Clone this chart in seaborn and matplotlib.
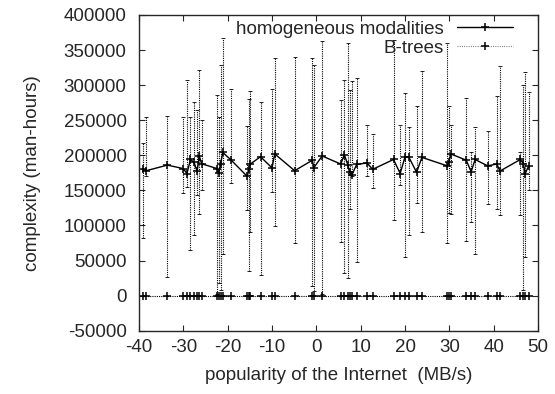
import numpy as np
import pandas as pd
import matplotlib
matplotlib.use("Agg")
import matplotlib.pyplot as plt
import seaborn as sns

# ==========================================================
# DATA
# ==========================================================

x_vals = [-39.2, -38.4, -33.6, -30.0, -29.2, -28.4, -27.6, -26.9, -26.4, -25.9,
          -22.4, -22.0, -21.6, -21.1, -19.2, -15.6, -15.2, -15.0, -12.6, -10.0,
          -9.4, -4.9, -0.9, -0.6, 1.3, 5.5, 6.3, 7.1, 7.5, 8.0,
          9.1, 11.4, 12.7, 17.4, 18.9, 20.0, 20.8, 22.6, 23.8, 29.5,
          29.9, 30.3, 33.8, 34.9, 35.8, 38.6, 40.7, 41.4, 46.0, 46.7,
          47.1, 47.9]

homog_y = [180000, 178000, 186000, 181000, 174000, 194000, 190000, 177000, 199000, 188000,
           181000, 175000, 188000, 204000, 193000, 170000, 180000, 187000, 198000, 182000,
           202000, 178000, 193000, 182000, 199000, 187500, 201000, 186000, 176000, 172000,
           187000, 189000, 180000, 194000, 174000, 198000, 198000, 175700, 197000, 185000,
           190000, 202000, 193000, 176600, 194000, 185000, 187500, 177500, 194000, 188000,
           174000, 185000]

homog_lo = [82000, 170000, 27000, 146000, 155000, 65000, 86000, 143000, 117000, 150000,
            3000, 18000, 8000, 60000, 161000, 122000, 35500, 91000, 29000, 148000,
            99000, 75000, 13000, 6000, 2000, 77000, 32000, 25000, 124000, 170000,
            48000, 170000, 153000, 108000, 158000, 54500, 86000, 132000, 90000, 75000,
            118000, 117000, 78000, 105000, 59000, 131000, 124000, 115000, 115000, 8000,
            55000, 150000]

homog_hi = [217000, 255000, 256000, 255000, 307000, 255000, 276000, 264000, 322000, 250000,
            286000, 255000, 329000, 367000, 294000, 242000, 280000, 292000, 276000, 294000,
            338000, 340000, 339000, 329000, 363000, 279000, 307000, 360000, 293000, 306000,
            310000, 243000, 231000, 364000, 243000, 289000, 241000, 270000, 320000, 360000,
            270000, 243000, 281000, 205000, 241000, 235000, 284000, 327000, 205000, 300000,
            319000, 290000]

btree_y = [0] * len(x_vals)

x_ticks = [-40, -30, -20, -10, 0, 10, 20, 30, 40, 50]
y_ticks = [-50000, 0, 50000, 100000, 150000, 200000, 250000, 300000, 350000, 400000]

df = pd.DataFrame({"x": x_vals, "homog": homog_y, "btree": btree_y})

# ==========================================================
# PLOT
# ==========================================================

sns.set_style("ticks")
plt.rcParams["font.family"] = ["Liberation Sans", "DejaVu Sans"]
plt.rcParams["axes.unicode_minus"] = False

fig = plt.figure(figsize=(5.55, 3.94), dpi=100)
ax = fig.add_axes([0.2505, 0.1607, 0.719, 0.8013])

# error bars (dotted)
err_lo = np.array(homog_y) - np.array(homog_lo)
err_hi = np.array(homog_hi) - np.array(homog_y)
eb = ax.errorbar(x_vals, homog_y, yerr=[err_lo, err_hi], fmt="none",
                 ecolor="black", elinewidth=0.8, capsize=1.5, capthick=0.6)
eb[2][0].set_linestyle((0, (1, 1)))

sns.lineplot(data=df, x="x", y="homog", ax=ax, color="black", linewidth=1.0,
             marker="+", markersize=5.5, markeredgewidth=1.1, markeredgecolor="black",
             label="homogeneous modalities", sort=True)
sns.lineplot(data=df, x="x", y="btree", ax=ax, color="black", linewidth=0.8,
             linestyle=(0, (1, 1)), marker="+", markersize=5.5, markeredgewidth=1.1,
             markeredgecolor="black", label="B-trees", sort=True)

ax.set_xlim(-40, 50)
ax.set_ylim(-50000, 400000)
ax.set_xticks(x_ticks)
ax.set_yticks(y_ticks)
ax.tick_params(direction="in", length=4, width=0.8, labelsize=13.5,
               top=True, right=True)
ax.tick_params(axis="y", pad=9)
ax.tick_params(axis="x", pad=6)
for s in ax.spines.values():
    s.set_linewidth(1.0)

ax.set_xlabel("popularity of the Internet  (MB/s)", fontsize=13.5, labelpad=8)
ax.set_ylabel("complexity (man-hours)", fontsize=13.5, labelpad=16)

leg = ax.legend(loc="upper right", bbox_to_anchor=(0.947, 0.994), frameon=False,
                markerfirst=False, fontsize=13.5, handlelength=3.0, borderaxespad=0,
                borderpad=0.2, labelspacing=0.1, handletextpad=0.7)
leg.get_lines()[1].set_color("#888888")

plt.savefig("out.png", dpi=100)
plt.close()
